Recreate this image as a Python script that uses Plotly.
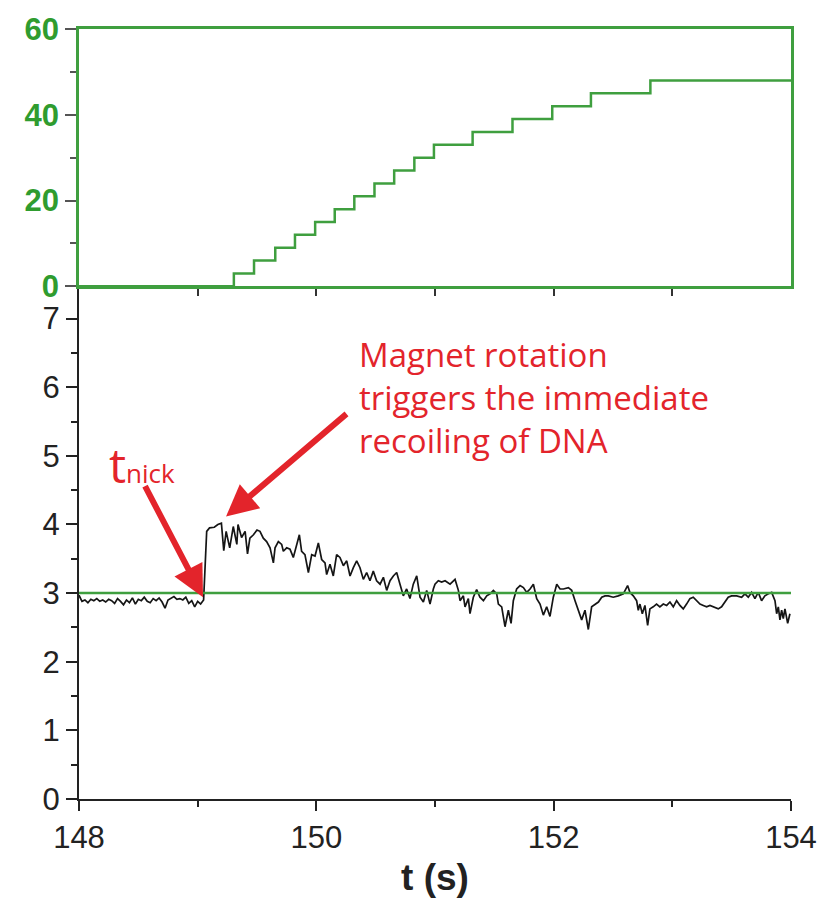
import plotly.graph_objects as go

# ---- top panel: magnet turns (step) ----
turn_t = [148.0, 149.305, 149.475, 149.654, 149.820, 149.990, 150.155, 150.320, 150.490,
          150.656, 150.826, 150.991, 151.317, 151.653, 151.988, 152.314, 152.815, 154.0]
turn_n = [0, 3, 6, 9, 12, 15, 18, 21, 24, 27, 30, 33, 36, 39, 42, 45, 48, 48]

# ---- bottom panel: extension trace ----
ext_t = [148.000, 148.025, 148.050, 148.075, 148.100, 148.125, 148.150, 148.175, 148.200, 148.225,
         148.250, 148.275, 148.300, 148.325, 148.350, 148.375, 148.400, 148.425, 148.450, 148.475,
         148.500, 148.525, 148.550, 148.575, 148.600, 148.625, 148.650, 148.675, 148.700, 148.725,
         148.750, 148.775, 148.800, 148.825, 148.850, 148.875, 148.900, 148.925, 148.950, 148.975,
         149.000, 149.025, 149.050,
         149.076, 149.100, 149.140, 149.170, 149.200, 149.220, 149.240, 149.270, 149.300, 149.330,
         149.340, 149.370, 149.400, 149.420, 149.440, 149.470, 149.500,
         149.525, 149.553, 149.581, 149.610, 149.638, 149.652, 149.680, 149.708, 149.722, 149.750,
         149.778, 149.806, 149.834, 149.857, 149.876, 149.904, 149.933, 149.961, 149.989, 150.017,
         150.045, 150.073, 150.087, 150.115, 150.143, 150.171, 150.199, 150.228, 150.256, 150.284,
         150.312, 150.340, 150.368, 150.396, 150.424, 150.452, 150.480, 150.508, 150.537, 150.565,
         150.593, 150.621, 150.649, 150.677, 150.705, 150.733, 150.761, 150.789, 150.817, 150.846,
         150.874, 150.902, 150.930, 150.958, 150.986,
         151.000, 151.028, 151.056, 151.085, 151.127, 151.169, 151.197, 151.211, 151.239, 151.253,
         151.281, 151.295, 151.323, 151.351, 151.379, 151.408, 151.436, 151.464, 151.492, 151.520,
         151.534, 151.562, 151.590, 151.618, 151.641, 151.660, 151.688, 151.717, 151.745, 151.773,
         151.801, 151.829, 151.857, 151.885, 151.913, 151.941, 151.969, 151.997, 152.026, 152.054,
         152.082, 152.124, 152.152, 152.180, 152.208, 152.236, 152.264, 152.292, 152.320, 152.349,
         152.377, 152.405, 152.433,
         152.460, 152.502, 152.544, 152.587, 152.623, 152.643, 152.671, 152.699, 152.713, 152.727,
         152.747, 152.769, 152.792, 152.811, 152.839, 152.867, 152.895, 152.924, 152.952, 152.980,
         153.008, 153.036, 153.064, 153.092, 153.120, 153.148, 153.176, 153.205, 153.233, 153.261,
         153.289, 153.317, 153.345, 153.387, 153.415, 153.443, 153.471, 153.499, 153.542, 153.584,
         153.612, 153.640, 153.668, 153.696, 153.724, 153.752, 153.780, 153.809, 153.837, 153.865,
         153.879, 153.893, 153.907, 153.921, 153.935, 153.949, 153.972, 153.991]
ext_z = [2.97, 2.88, 2.90, 2.86, 2.91, 2.89, 2.92, 2.88, 2.90, 2.87,
         2.91, 2.89, 2.85, 2.92, 2.88, 2.83, 2.90, 2.86, 2.93, 2.84,
         2.91, 2.89, 2.94, 2.88, 2.86, 2.92, 2.89, 2.93, 2.87, 2.78,
         2.90, 2.93, 2.95, 2.91, 2.92, 2.90, 2.94, 2.85, 2.89, 2.80,
         2.88, 2.84, 2.90,
         3.90, 3.95, 3.96, 4.00, 4.02, 3.62, 3.90, 3.66, 3.97, 3.71,
         4.00, 3.81, 3.90, 3.57, 3.80, 3.85, 3.92,
         3.90, 3.80, 3.75, 3.66, 3.44, 3.66, 3.75, 3.71, 3.61, 3.66,
         3.64, 3.52, 3.71, 3.85, 3.61, 3.56, 3.30, 3.56, 3.54, 3.73,
         3.49, 3.44, 3.27, 3.42, 3.25, 3.56, 3.52, 3.40, 3.47, 3.25,
         3.37, 3.47, 3.37, 3.20, 3.30, 3.18, 3.32, 3.18, 3.13, 3.23,
         3.04, 3.18, 3.25, 3.30, 3.13, 2.96, 3.06, 2.92, 3.13, 3.25,
         2.94, 2.87, 3.04, 2.84, 3.06,
         3.13, 3.18, 3.16, 3.18, 3.13, 3.20, 3.04, 2.89, 2.96, 2.80,
         2.92, 2.70, 2.94, 3.05, 2.94, 2.89, 2.96, 2.99, 3.04, 2.99,
         2.84, 2.80, 2.51, 2.75, 2.56, 2.89, 3.06, 3.11, 3.08, 3.01,
         3.06, 3.13, 2.92, 2.84, 2.68, 2.80, 2.66, 2.94, 3.13, 3.06,
         3.06, 3.08, 3.04, 2.89, 2.75, 2.61, 2.75, 2.47, 2.80, 2.84,
         2.87, 2.94, 2.96,
         2.96, 2.94, 2.96, 2.99, 3.11, 3.01, 2.96, 2.89, 2.75, 2.84,
         2.70, 2.82, 2.53, 2.77, 2.80, 2.84, 2.80, 2.84, 2.82, 2.87,
         2.80, 2.89, 2.82, 2.77, 2.84, 2.92, 2.94, 2.89, 2.84, 2.82,
         2.80, 2.82, 2.80, 2.77, 2.80, 2.87, 2.94, 2.96, 2.96, 2.94,
         2.99, 2.94, 3.01, 2.92, 3.01, 2.89, 2.96, 2.99, 3.01, 2.89,
         2.70, 2.80, 2.61, 2.75, 2.63, 2.77, 2.56, 2.70]

ref_t = [148.0, 154.0]
ref_z = [3.0, 3.0]

x_ticks = [148, 150, 152, 154]
x_minor = [149, 151, 153]
y_ticks = [0, 1, 2, 3, 4, 5, 6, 7]
y_minor = [0.5, 1.5, 2.5, 3.5, 4.5, 5.5, 6.5]
n_ticks = [0, 20, 40, 60]
n_minor = [10, 30, 50]

GREEN_LINE = "#3f9f3f"
GREEN_TXT = "#2f9c2f"
RED = "#e3242b"
DARK = "#222222"
TICKFONT = "Liberation Sans"

fig = go.Figure()
fig.add_trace(go.Scatter(x=ext_t, y=ext_z, mode="lines", xaxis="x", yaxis="y",
                         line=dict(color="#151515", width=1.7), showlegend=False))
fig.add_trace(go.Scatter(x=ref_t, y=ref_z, mode="lines", xaxis="x", yaxis="y",
                         line=dict(color=GREEN_LINE, width=2.5), showlegend=False))
fig.add_trace(go.Scatter(x=turn_t, y=turn_n, mode="lines", xaxis="x2", yaxis="y2",
                         line=dict(color=GREEN_LINE, width=2.5, shape="hv"), showlegend=False))

split = (803 - 283) / 781

fig.update_layout(
    width=830, height=903,
    margin=dict(l=79, r=39, t=22, b=100),
    plot_bgcolor="white", paper_bgcolor="white",
    xaxis=dict(domain=[0, 1], anchor="y", range=[148, 154], showgrid=False, zeroline=False,
               showline=True, linecolor=DARK, linewidth=2,
               ticks="outside", ticklen=10, tickwidth=2, tickcolor=DARK,
               tickvals=x_ticks, ticktext=[str(v) for v in x_ticks],
               minor=dict(tickvals=x_minor, ticklen=6, tickwidth=2, tickcolor=DARK, ticks="outside"),
               tickfont=dict(family=TICKFONT, size=31, color=DARK),
               title=dict(text="t (s)", standoff=10,
                          font=dict(family=TICKFONT, size=37, color=DARK, weight="bold"))),
    yaxis=dict(domain=[0, split], anchor="x", range=[0, 7.47], showgrid=False, zeroline=False,
               showline=True, linecolor=DARK, linewidth=2,
               ticks="outside", ticklen=11, tickwidth=2, tickcolor=DARK,
               tickvals=y_ticks,
               minor=dict(tickvals=y_minor, ticklen=6, tickwidth=2, tickcolor=DARK, ticks="outside"),
               tickfont=dict(family=TICKFONT, size=31, color=DARK)),
    xaxis2=dict(domain=[0, 1], anchor="y2", range=[148, 154], showgrid=False, zeroline=False,
                showline=True, linecolor=GREEN_LINE, linewidth=2.5, mirror=True,
                ticks="outside", ticklen=7, tickwidth=2, tickcolor="#333333",
                tickvals=[149, 150, 151, 152, 153], showticklabels=False),
    yaxis2=dict(domain=[split, 1], anchor="x2", range=[0, 60], showgrid=False, zeroline=False,
                showline=True, linecolor=GREEN_LINE, linewidth=2.5, mirror=True,
                ticks="outside", ticklen=11, tickwidth=2, tickcolor="#555555",
                tickvals=n_ticks,
                minor=dict(tickvals=n_minor, ticklen=6, tickwidth=2, tickcolor="#555555", ticks="outside"),
                tickfont=dict(family=TICKFONT, size=31, color=GREEN_TXT, weight="bold")),
)

# red annotations
fig.add_annotation(x=150.343, y=5.85, xref="x", yref="y", xanchor="left", yanchor="middle",
                   text="Magnet rotation<br>triggers the immediate<br>recoiling of DNA",
                   showarrow=False, align="left",
                   font=dict(family="Open Sans", size=33, color=RED))
fig.add_annotation(x=148.236, y=4.88, xref="x", yref="y", xanchor="left", yanchor="middle",
                   text="<span style='font-size:48px'>t</span>nick",
                   showarrow=False, font=dict(family="Open Sans", size=26, color=RED))
# arrows
fig.add_annotation(x=149.045, y=2.94, ax=148.55, ay=4.58, xref="x", yref="y", axref="x", ayref="y",
                   text="", showarrow=True, arrowhead=2, arrowsize=1.05, arrowwidth=6, arrowcolor=RED)
fig.add_annotation(x=149.239, y=4.115, ax=150.267, ay=5.63, xref="x", yref="y", axref="x", ayref="y",
                   text="", showarrow=True, arrowhead=2, arrowsize=1.05, arrowwidth=6, arrowcolor=RED)

fig.write_html("out.html")
